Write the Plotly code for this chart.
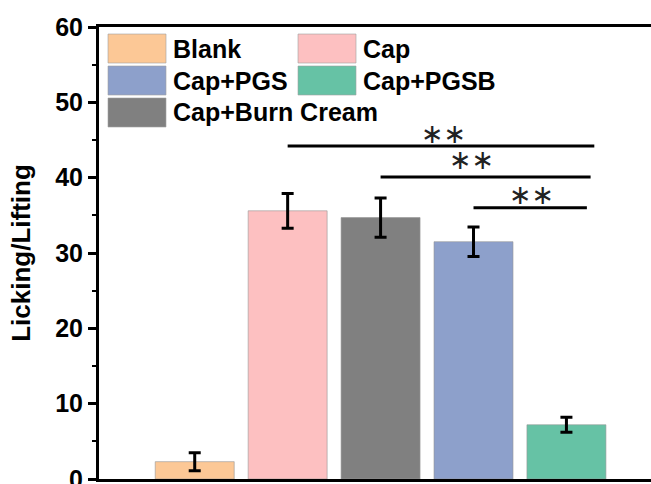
import plotly.graph_objects as go

# ---- data ----
groups = ["Blank", "Cap", "Cap+Burn Cream", "Cap+PGS", "Cap+PGSB"]
means = [2.3, 35.6, 34.7, 31.5, 7.2]
errors = [1.2, 2.3, 2.6, 1.95, 1.0]
colors = ["#FCC896", "#FDC0C1", "#808080", "#8DA0CB", "#66C2A5"]

legend_order = ["Blank", "Cap", "Cap+PGS", "Cap+PGSB", "Cap+Burn Cream"]

sig_start = [1, 2, 3]
sig_end = [4.30, 4.26, 4.22]
sig_y = [44.2, 40.1, 36.0]
sig_text = ["\u2217\u2217", "\u2217\u2217", "\u2217\u2217"]
sig_text_x = [2.68, 2.98, 3.62]
sig_text_y = [45.9, 42.4, 37.7]

y_ticks = [0, 10, 20, 30, 40, 50, 60]

FONT = "Liberation Sans"

x = list(range(len(groups)))
fig = go.Figure()
fig.add_trace(go.Bar(
    x=x, y=means,
    marker=dict(color=colors, line=dict(color="rgba(150,150,150,0.6)", width=1)),
    width=0.85,
    error_y=dict(type="data", array=errors, visible=True, color="black",
                 thickness=3, width=6),
    showlegend=False,
))

shapes = []
annotations = []
for xs, xe, yy, t, tx, ty in zip(sig_start, sig_end, sig_y, sig_text, sig_text_x, sig_text_y):
    shapes.append(dict(type="line", xref="x", yref="y", x0=xs, x1=xe, y0=yy, y1=yy,
                       line=dict(color="black", width=3)))
    annotations.append(dict(x=tx, y=ty, xref="x", yref="y", text=t, showarrow=False,
                            yanchor="middle",
                            font=dict(family="DejaVu Sans", size=27, color="#222222")))

# manual legend (large swatches)
col_px = [108, 298]
row_px = [34, 66, 98]
sw_w, sw_h = 58, 29
W, H = 651, 484
color_of = dict(zip(groups, colors))
for i, name in enumerate(legend_order):
    r, c = divmod(i, 2)
    x0 = col_px[c]
    y0 = row_px[r]
    shapes.append(dict(type="rect", xref="paper", yref="paper",
                       x0=(x0 - 99) / (W - 99), x1=(x0 + sw_w - 99) / (W - 99),
                       y0=1 - (y0 + sw_h - 27) / 452, y1=1 - (y0 - 27) / 452,
                       fillcolor=color_of[name],
                       line=dict(color="rgba(160,160,160,0.6)", width=1)))
    annotations.append(dict(xref="paper", yref="paper",
                            x=(x0 + sw_w + 5 - 99) / (W - 99),
                            y=1 - (y0 + sw_h / 2 - 27) / 452,
                            xanchor="left", yanchor="middle", showarrow=False,
                            text=name,
                            font=dict(family=FONT, size=25, color="black", weight="bold")))

fig.update_layout(
    width=W, height=H,
    margin=dict(l=99, r=0, t=27, b=5),
    plot_bgcolor="white", paper_bgcolor="white",
    shapes=shapes, annotations=annotations,
    xaxis=dict(range=[-1.03, 4.91], showticklabels=False, ticks="",
               showline=True, linecolor="black", linewidth=3, mirror=True,
               showgrid=False, zeroline=False),
    yaxis=dict(range=[0, 60], tickvals=y_ticks, ticks="outside", ticklen=8,
               tickwidth=3, tickcolor="black", ticklabeloverflow="allow",
               minor=dict(dtick=5, ticks="outside", ticklen=4, tickwidth=2, tickcolor="black"),
               showline=True, linecolor="black", linewidth=3, mirror=False,
               showgrid=False, zeroline=False, automargin=False,
               tickfont=dict(family=FONT, size=25, color="black", weight="bold"),
               title=dict(text="Licking/Lifting", standoff=18,
                          font=dict(family=FONT, size=26, color="black", weight="bold"))),
)

fig.write_html("out.html", config={"displayModeBar": False},
               post_script="document.body.style.margin='0';document.body.style.overflow='hidden';")
